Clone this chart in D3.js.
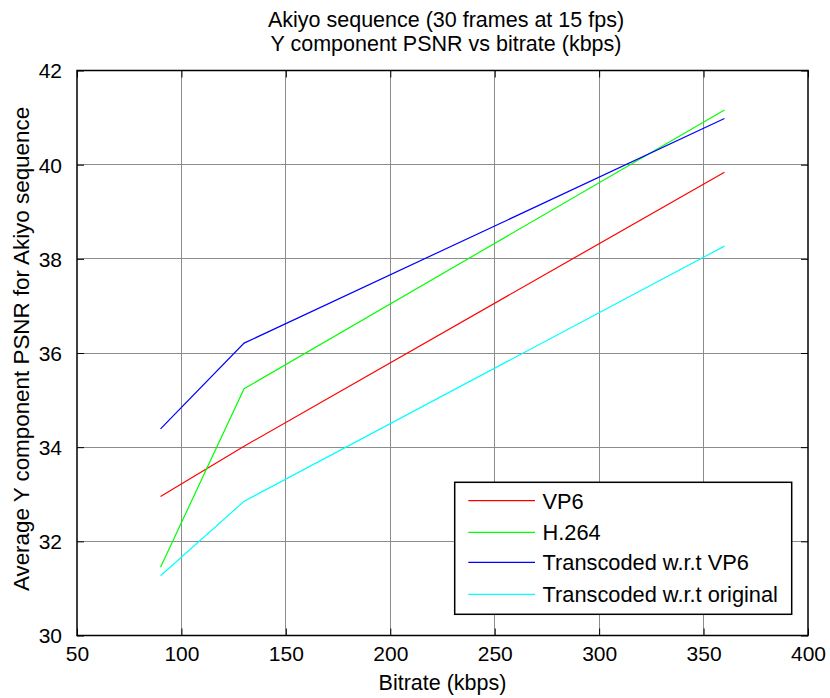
<!DOCTYPE html>
<html>
<head>
<meta charset="utf-8">
<script src="https://cdn.jsdelivr.net/npm/d3@7"></script>
<style>
  html, body { margin: 0; padding: 0; background: #fff; }
  text { font-family: "Liberation Sans", Arial, sans-serif; fill: #000; }
</style>
</head>
<body>
<svg id="chart" width="830" height="698"></svg>
<script>
// Bitrates (kbps) at which each encoder was measured
const bitrates = [90, 130, 360];

// Average Y-component PSNR (dB) per series
const seriesNames = ["VP6", "H.264", "Transcoded w.r.t VP6", "Transcoded w.r.t original"];
const vp6        = [32.95, 34.02, 39.84];
const h264       = [31.45, 35.24, 41.16];
const transVp6   = [34.39, 36.21, 40.98];
const transOrig  = [31.27, 32.85, 38.27];
const seriesColors = ["#ff0000", "#00ff00", "#0000ff", "#00ffff"];

const xTicks = [50, 100, 150, 200, 250, 300, 350, 400];
const yTicks = [30, 32, 34, 36, 38, 40, 42];

const titleLines = ["Akiyo sequence (30 frames at 15 fps)", "Y component PSNR vs bitrate (kbps)"];
const xLabel = "Bitrate (kbps)";
const yLabel = "Average Y component PSNR for Akiyo sequence";

const seriesValues = [vp6, h264, transVp6, transOrig];

const svg = d3.select("#chart");
const plotL = 77, plotR = 808, plotT = 70.5, plotB = 635.5;

const x = d3.scaleLinear().domain([50, 400]).range([plotL, plotR]);
const y = d3.scaleLinear().domain([30, 42]).range([plotB, plotT]);

// Grid lines
const grid = svg.append("g").attr("stroke", "#8c8c8c").attr("stroke-width", 1).attr("shape-rendering", "crispEdges");
xTicks.slice(1, -1).forEach(t => {
  grid.append("line").attr("x1", x(t)).attr("x2", x(t)).attr("y1", plotT).attr("y2", plotB);
});
yTicks.slice(1, -1).forEach(t => {
  grid.append("line").attr("x1", plotL).attr("x2", plotR).attr("y1", y(t)).attr("y2", y(t));
});

// Axes with inward ticks on all four sides
const tickLen = 7;
const xAxisBottom = d3.axisBottom(x).tickValues(xTicks).tickSizeInner(-tickLen).tickSizeOuter(0).tickPadding(tickLen + 4);
const xAxisTop = d3.axisTop(x).tickValues(xTicks).tickSizeInner(-tickLen).tickSizeOuter(0).tickFormat("");
const yAxisLeft = d3.axisLeft(y).tickValues(yTicks).tickSizeInner(-tickLen).tickSizeOuter(0).tickPadding(tickLen + 8);
const yAxisRight = d3.axisRight(y).tickValues(yTicks).tickSizeInner(-tickLen).tickSizeOuter(0).tickFormat("");

function styleAxis(g) {
  g.select(".domain").remove();
  g.selectAll("line").attr("stroke", "#000").attr("stroke-width", 1);
  g.selectAll("text").attr("font-size", 21).attr("font-family", "'Liberation Sans', Arial, sans-serif");
}
svg.append("g").attr("transform", `translate(0,${plotB})`).call(xAxisBottom).call(styleAxis);
svg.append("g").attr("transform", `translate(0,${plotT})`).call(xAxisTop).call(styleAxis);
svg.append("g").attr("transform", `translate(${plotL},0)`).call(yAxisLeft).call(styleAxis)
  .selectAll("text").attr("dy", "0.35em");
svg.append("g").attr("transform", `translate(${plotR},0)`).call(yAxisRight).call(styleAxis);

// Axes box
svg.append("rect").attr("x", plotL).attr("y", plotT).attr("width", plotR - plotL).attr("height", plotB - plotT)
  .attr("fill", "none").attr("stroke", "#000").attr("stroke-width", 1.5);

// Series lines
const line = d3.line().x((d, i) => x(bitrates[i])).y(d => y(d));
seriesValues.forEach((vals, k) => {
  svg.append("path").datum(vals).attr("d", line).attr("fill", "none")
    .attr("stroke", seriesColors[k]).attr("stroke-width", 1.2);
});

// Title and labels
const title = svg.append("text").attr("text-anchor", "middle").attr("font-size", 21.5);
titleLines.forEach((t, i) => {
  title.append("tspan").attr("x", 446).attr("y", 26.5 + i * 24.5).text(t);
});
svg.append("text").attr("x", (plotL + plotR) / 2).attr("y", 690).attr("text-anchor", "middle")
  .attr("font-size", 21.5).text(xLabel);
svg.append("text").attr("transform", `translate(29,349) rotate(-90)`)
  .attr("text-anchor", "middle").attr("font-size", 22.4).text(yLabel);

// Legend
const lg = svg.append("g");
const lgX = 454.7, lgY = 482.3, lgW = 337, lgH = 132;
lg.append("rect").attr("x", lgX).attr("y", lgY).attr("width", lgW).attr("height", lgH)
  .attr("fill", "#fff").attr("stroke", "#000").attr("stroke-width", 1.5);
const rowY = [500.7, 532.3, 562.3, 594.3];
seriesNames.forEach((name, k) => {
  lg.append("line").attr("x1", 468.3).attr("x2", 535).attr("y1", rowY[k]).attr("y2", rowY[k])
    .attr("stroke", seriesColors[k]).attr("stroke-width", 1.2);
  lg.append("text").attr("x", 542.5).attr("y", rowY[k]).attr("dy", "0.36em")
    .attr("font-size", 21.8).text(name);
});
</script>
</body>
</html>
